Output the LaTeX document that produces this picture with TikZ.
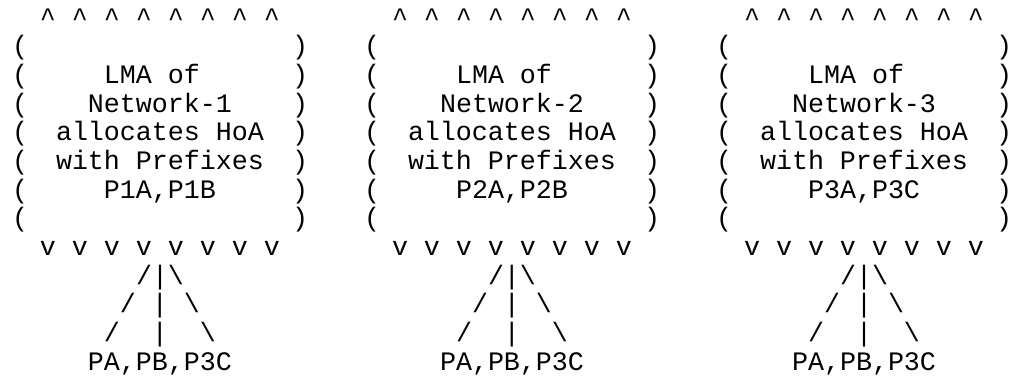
\documentclass[tikz,border=0pt]{standalone}
\usepackage{fontspec}
\setmonofont{Liberation Mono}
\usepackage{tikz}
\tikzstyle{ascii} = [inner sep = 0pt, outer sep = 0pt, anchor = base west, font = \ttfamily\fontsize{13.333pt}{14.325pt}\selectfont]
\tikzstyle{lpar} = [ascii, xshift = 2pt]
\tikzstyle{rpar} = [ascii, xshift = -2pt]

\begin{document}
\begin{tikzpicture}[x = 8pt, y = -14.325pt]
	\useasboundingbox (-0.5, -0.9145) rectangle (62.5625, 12.314);
	\foreach \n/\o/\pa/\pb in {1/0/P1A/P1B, 2/22/P2A/P2B, 3/44/P3A/P3C} {
		% carets above the LMA
		\node [ascii] (up\n) at (\o+2, 0) {\textasciicircum\ \textasciicircum\ \textasciicircum\ \textasciicircum\ \textasciicircum\ \textasciicircum\ \textasciicircum\ \textasciicircum};
		% cloud of the network
		\foreach \r in {1,...,7} {
			\node [lpar] (lp\n\r) at (\o, \r) {(};
			\node [rpar] (rp\n\r) at (\o+18, \r) {)};
		}
		\node [ascii] (lma\n) at (\o+6, 2) {LMA of};
		\node [ascii] (net\n) at (\o+5, 3) {Network-\n};
		\node [ascii] (hoa\n) at (\o+3, 4) {allocates HoA};
		\node [ascii] (with\n) at (\o+3, 5) {with Prefixes};
		\node [ascii] (pfx\n) at (\o+6, 6) {\pa,\pb};
		% arrows down to the prefixes
		\node [ascii] (dn\n) at (\o+2, 8) {v v v v v v v v};
		\node [ascii] (fa\n) at (\o+8, 9) {/|\textbackslash};
		\node [ascii] (fb\n) at (\o+7, 10) {/\ |\ \textbackslash};
		\node [ascii] (fc\n) at (\o+6, 11) {/\ \ |\ \ \textbackslash};
		\node [ascii] (mn\n) at (\o+5, 12) {PA,PB,P3C};
	}
\end{tikzpicture}
\end{document}
